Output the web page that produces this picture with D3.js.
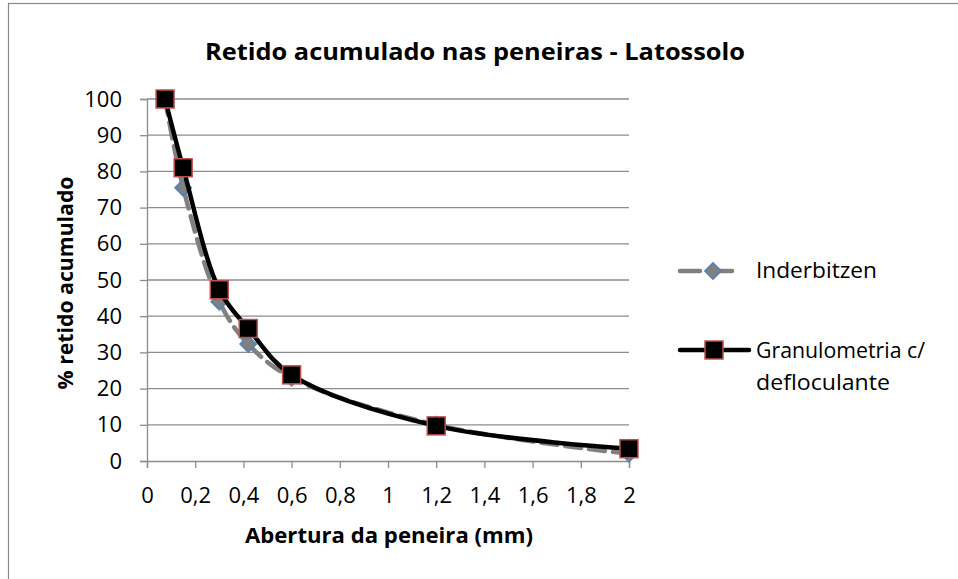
<!DOCTYPE html>
<html>
<head>
<meta charset="utf-8">
<script src="https://cdn.jsdelivr.net/npm/d3@7"></script>
<style>
  body { margin: 0; background: #fff; }
  svg { display: block; font-family: "Open Sans", sans-serif; }
</style>
</head>
<body>
<div id="chart"></div>
<script>
var aberturas = [0.075, 0.15, 0.3, 0.42, 0.6, 1.2, 2.0];
var inderbitzen = [100, 75.5, 44, 32.3, 23, 10, 2];
var granulometria = [100, 81, 47.3, 36.6, 23.8, 9.7, 3.4];
var xTicks = [0, 0.2, 0.4, 0.6, 0.8, 1, 1.2, 1.4, 1.6, 1.8, 2];
var yTicks = [0, 10, 20, 30, 40, 50, 60, 70, 80, 90, 100];

var width = 958, height = 579;
var font = "'Open Sans', sans-serif";
var svg = d3.select("#chart").append("svg")
    .attr("width", width)
    .attr("height", height);

svg.append("rect")
    .attr("x", 8.5).attr("y", 3.5)
    .attr("width", 1000).attr("height", 700)
    .attr("fill", "#fff")
    .attr("stroke", "#888").attr("stroke-width", 1.2);

var x = d3.scaleLinear().domain([0, 2]).range([147, 629]);
var y = d3.scaleLinear().domain([0, 100]).range([461, 99]);

// grid
svg.append("g").selectAll("line")
    .data(yTicks.slice(1))
    .enter().append("line")
    .attr("x1", x(0)).attr("x2", x(2))
    .attr("y1", function(d) { return y(d); })
    .attr("y2", function(d) { return y(d); })
    .attr("stroke", "#8c8c8c").attr("stroke-width", 1.3);

var yAxis = svg.append("g")
    .attr("transform", "translate(" + x(0) + ",0)")
    .call(d3.axisLeft(y).tickValues(yTicks).tickSize(7).tickPadding(18).tickFormat(d3.format("d")));
var xAxis = svg.append("g")
    .attr("transform", "translate(0," + y(0) + ")")
    .call(d3.axisBottom(x).tickValues(xTicks).tickSize(7).tickPadding(19)
        .tickFormat(function(d) { return String(d).replace(".", ","); }));

[yAxis, xAxis].forEach(function(a) {
    a.select(".domain").attr("stroke", "#8c8c8c").attr("stroke-width", 1.3);
    a.selectAll(".tick line").attr("stroke", "#8c8c8c").attr("stroke-width", 1.3);
    a.selectAll(".tick text").attr("fill", "#000").style("font-size", "22px")
        .style("font-family", font);
});

var line = d3.line().curve(d3.curveCatmullRom.alpha(0.5));
var ptsI = aberturas.map(function(d, i) { return [x(d), y(inderbitzen[i])]; });
var ptsG = aberturas.map(function(d, i) { return [x(d), y(granulometria[i])]; });

svg.append("path")
    .attr("d", line(ptsI))
    .attr("fill", "none")
    .attr("stroke", "#808080").attr("stroke-width", 4.5)
    .attr("stroke-dasharray", "16,8").attr("stroke-linecap", "round");

svg.append("g").selectAll("path")
    .data(ptsI)
    .enter().append("path")
    .attr("d", d3.symbol().type(d3.symbolDiamond2).size(170))
    .attr("transform", function(d) { return "translate(" + d[0] + "," + d[1] + ")"; })
    .attr("fill", "#808080").attr("stroke", "#4f81bd").attr("stroke-width", 1.5);

svg.append("path")
    .attr("d", line(ptsG))
    .attr("fill", "none")
    .attr("stroke", "#000").attr("stroke-width", 4.5);

svg.append("g").selectAll("rect")
    .data(ptsG)
    .enter().append("rect")
    .attr("x", function(d) { return d[0] - 9; })
    .attr("y", function(d) { return d[1] - 9; })
    .attr("width", 18).attr("height", 18)
    .attr("fill", "#000").attr("stroke", "#c0504d").attr("stroke-width", 1.5);

// title and axis titles
function label(sel, size, bold, len) {
    return sel.style("font-size", size + "px")
        .style("font-weight", bold ? "bold" : "normal")
        .attr("textLength", len)
        .attr("lengthAdjust", "spacingAndGlyphs");
}

label(svg.append("text")
    .attr("x", 475).attr("y", 60)
    .attr("text-anchor", "middle"), 24, true, 540)
    .text("Retido acumulado nas peneiras - Latossolo");

label(svg.append("text")
    .attr("x", 389).attr("y", 543)
    .attr("text-anchor", "middle"), 21, true, 288)
    .text("Abertura da peneira (mm)");

label(svg.append("text")
    .attr("transform", "translate(73,283) rotate(-90)")
    .attr("text-anchor", "middle"), 21, true, 213)
    .text("% retido acumulado");

// legend
var lg = svg.append("g");
lg.append("line")
    .attr("x1", 680).attr("x2", 740).attr("y1", 271).attr("y2", 271)
    .attr("stroke", "#808080").attr("stroke-width", 4.5)
    .attr("stroke-dasharray", "20,12").attr("stroke-linecap", "round");
lg.append("path")
    .attr("d", d3.symbol().type(d3.symbolDiamond2).size(170))
    .attr("transform", "translate(713,271)")
    .attr("fill", "#808080").attr("stroke", "#4f81bd").attr("stroke-width", 1.5);
label(lg.append("text")
    .attr("x", 756).attr("y", 278), 22, false, 121)
    .text("Inderbitzen");

lg.append("line")
    .attr("x1", 680).attr("x2", 749).attr("y1", 350).attr("y2", 350)
    .attr("stroke", "#000").attr("stroke-width", 4.5).attr("stroke-linecap", "round");
lg.append("rect")
    .attr("x", 705).attr("y", 341).attr("width", 18).attr("height", 18)
    .attr("fill", "#000").attr("stroke", "#c0504d").attr("stroke-width", 1.5);
label(lg.append("text")
    .attr("x", 756).attr("y", 358), 22, false, 169)
    .text("Granulometria c/");
label(lg.append("text")
    .attr("x", 756).attr("y", 390), 22, false, 134)
    .text("defloculante");
</script>
</body>
</html>
